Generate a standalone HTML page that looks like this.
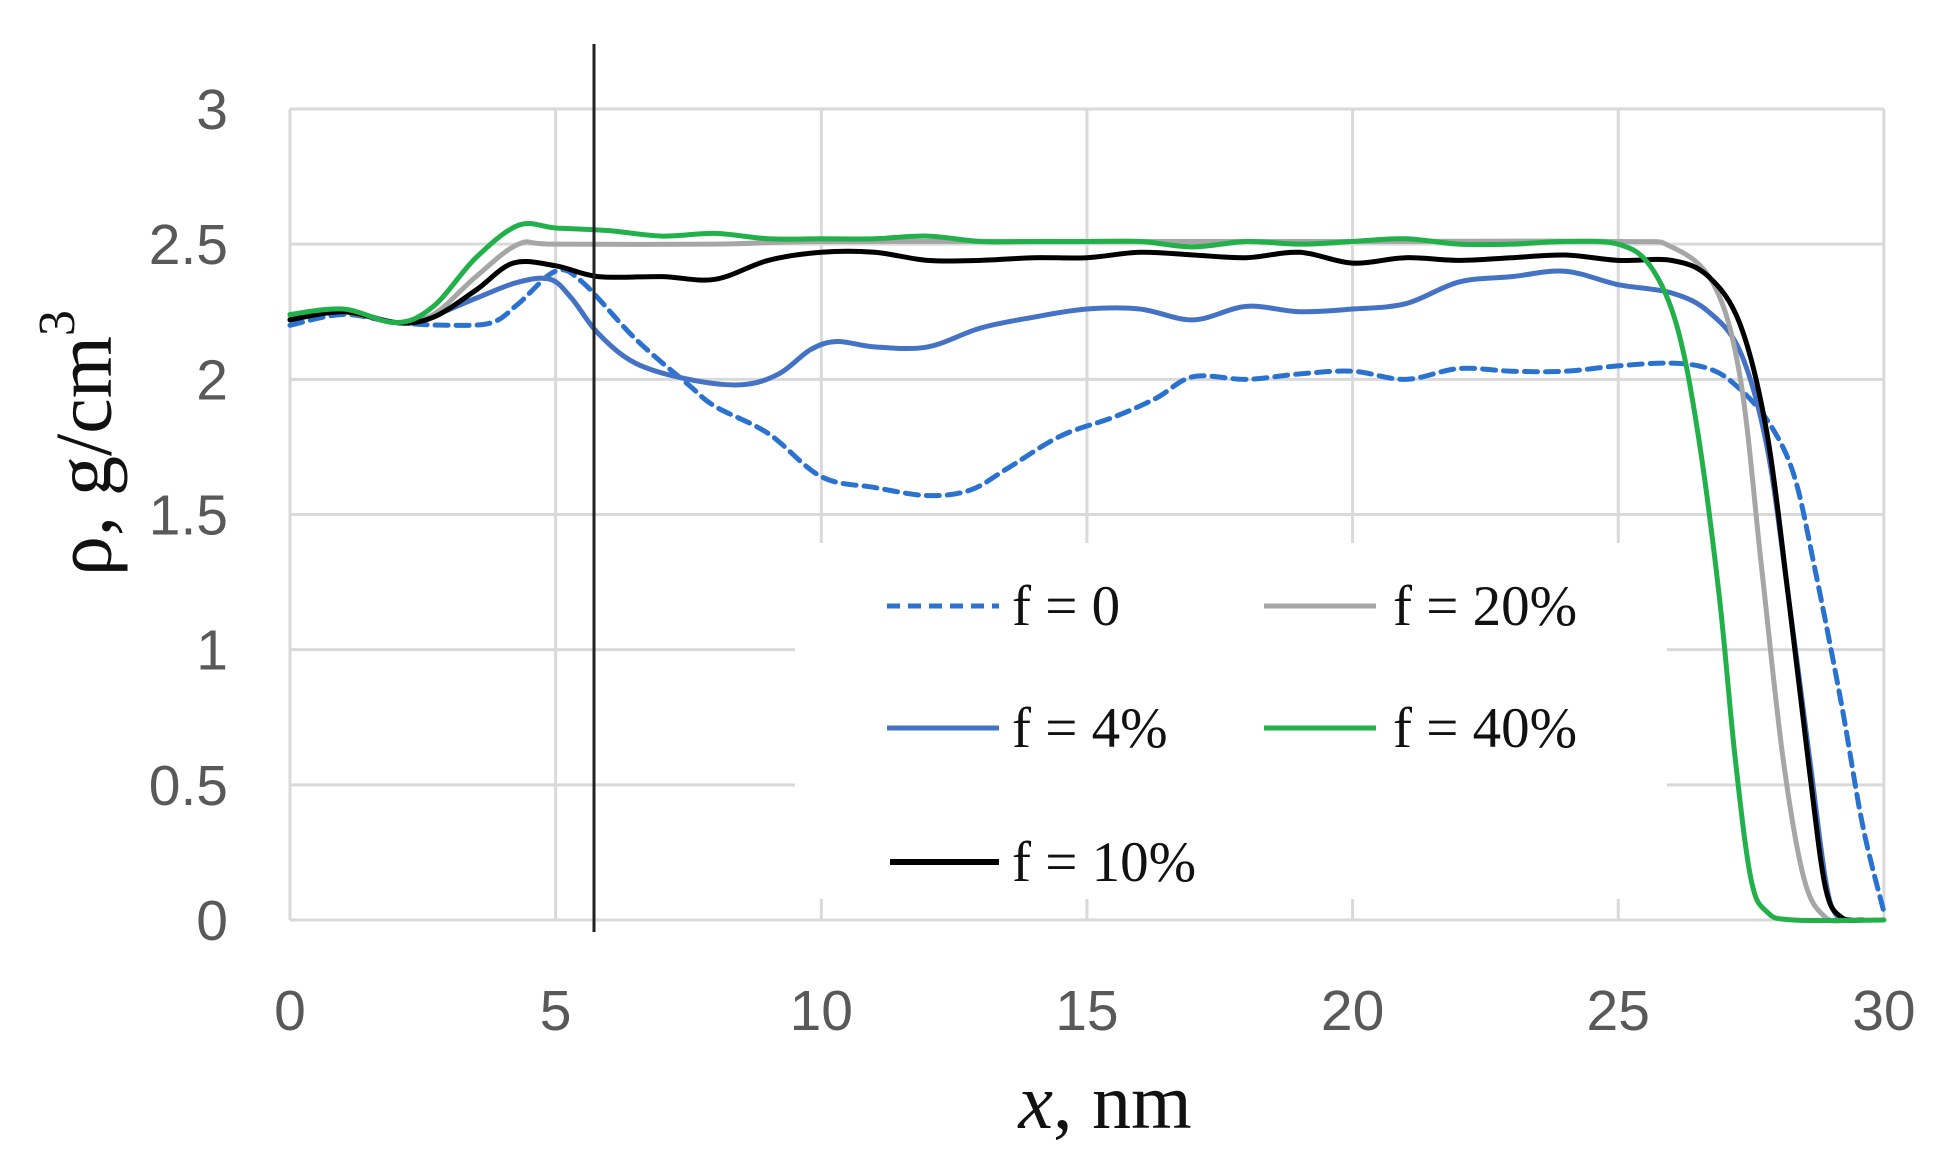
<!DOCTYPE html>
<html><head><meta charset="utf-8"><style>
html,body{margin:0;padding:0;background:#fff;}
svg{display:block;}
.tk{font-family:"Liberation Sans",sans-serif;font-size:57px;fill:#595959;}
.lg{font-family:"Liberation Serif",serif;font-size:57px;fill:#111;}
</style></head><body>
<svg id="s" width="1948" height="1168" viewBox="0 0 1948 1168" xmlns="http://www.w3.org/2000/svg">
<g id="grid" stroke="#d9d9d9" stroke-width="3" fill="none"></g>
<rect x="795" y="543" width="872" height="356" fill="#fff"/>
<g id="ticks"></g>
<g id="series" fill="none" stroke-linejoin="round" stroke-linecap="round"></g>
<line x1="594" y1="44" x2="594" y2="932" stroke="#222" stroke-width="3"/>
<text x="92" y="443" transform="rotate(-90 92 443)" text-anchor="middle" dominant-baseline="middle" style="font-family:'Liberation Serif',serif;font-size:80px;fill:#111">ρ, g/cm<tspan dy="-30" font-size="52">3</tspan></text>
<text x="1105" y="1128" text-anchor="middle" style="font-family:'Liberation Serif',serif;font-size:78px;fill:#111"><tspan font-style="italic">x</tspan>, nm</text>
<g stroke-width="5">
<line x1="887" y1="606" x2="999" y2="606" stroke="#2a72d0" stroke-dasharray="13,8"/>
<line x1="887" y1="728" x2="999" y2="728" stroke="#4472C4"/>
<line x1="890" y1="862" x2="999" y2="862" stroke="#000" stroke-width="6"/>
<line x1="1264" y1="606" x2="1376" y2="606" stroke="#a6a6a6"/>
<line x1="1264" y1="728" x2="1376" y2="728" stroke="#22b04a"/>
</g>
<text class="lg" x="1012" y="625">f = 0</text>
<text class="lg" x="1012" y="747">f = 4%</text>
<text class="lg" x="1012" y="881">f = 10%</text>
<text class="lg" x="1393" y="625">f = 20%</text>
<text class="lg" x="1393" y="747">f = 40%</text>
</svg>
<script>
const X=v=>290+v*53.13, Y=v=>920-v*270.33;
const NS="http://www.w3.org/2000/svg";
const g=document.getElementById('grid'),t=document.getElementById('ticks'),se=document.getElementById('series');
function el(p,tag,a,txt){const e=document.createElementNS(NS,tag);for(const k in a)e.setAttribute(k,a[k]);if(txt!==undefined)e.textContent=txt;p.appendChild(e);return e;}
for(let i=0;i<=6;i++){const y=Y(i*0.5);el(g,'line',{x1:290,y1:y,x2:1884,y2:y});el(t,'text',{x:228,y:y+20,class:'tk','text-anchor':'end'},String(i*0.5));}
for(let i=0;i<=6;i++){const x=X(i*5);el(g,'line',{x1:x,y1:109,x2:x,y2:920});el(t,'text',{x:x,y:1030,class:'tk','text-anchor':'middle'},String(i*5));}
function path(pts){const p=pts.map(a=>[X(a[0]),Y(a[1])]);let d='M'+p[0][0]+','+p[0][1];
for(let i=0;i<p.length-1;i++){const p0=p[Math.max(0,i-1)],p1=p[i],p2=p[i+1],p3=p[Math.min(p.length-1,i+2)];
const c1=[p1[0]+(p2[0]-p0[0])/6,p1[1]+(p2[1]-p0[1])/6],c2=[p2[0]-(p3[0]-p1[0])/6,p2[1]-(p3[1]-p1[1])/6];
d+=' C'+c1+' '+c2+' '+p2;}return d;}
const S=[
{c:'#2a72d0',w:5,da:'13,8',p:[[0,2.2],[1,2.24],[2,2.21],[3,2.2],[3.8,2.21],[4.3,2.28],[5,2.4],[5.5,2.36],[6.5,2.15],[7.5,1.98],[8,1.9],[9,1.8],[10,1.64],[11,1.6],[12,1.57],[12.8,1.59],[13.5,1.67],[14.5,1.79],[15.5,1.86],[16.3,1.93],[17,2.01],[18,2.0],[19,2.02],[20,2.03],[21,2.0],[22,2.04],[23,2.03],[24,2.03],[25,2.05],[26,2.06],[26.7,2.04],[27.2,1.98],[27.8,1.85],[28.3,1.65],[28.7,1.3],[29.2,0.8],[29.6,0.35],[30,0.03]]},
{c:'#4472C4',w:5,p:[[0,2.22],[1,2.25],[2,2.21],[2.5,2.22],[3.5,2.3],[4.3,2.36],[4.9,2.37],[5.3,2.3],[5.8,2.17],[6.5,2.06],[7.5,2.0],[8.5,1.98],[9.2,2.02],[9.8,2.11],[10.3,2.14],[11,2.12],[12,2.12],[13,2.19],[14,2.23],[15,2.26],[16,2.26],[17,2.22],[18,2.27],[19,2.25],[20,2.26],[21,2.28],[22,2.36],[23,2.38],[24,2.4],[25,2.35],[26,2.32],[26.7,2.25],[27.3,2.1],[27.8,1.75],[28.2,1.2],[28.6,0.6],[28.9,0.15],[29.1,0.02],[29.4,0]]},
{c:'#a6a6a6',w:5,p:[[0,2.23],[1,2.25],[2,2.21],[2.7,2.24],[3.5,2.38],[4.3,2.5],[5,2.5],[8,2.5],[10,2.51],[15,2.51],[20,2.51],[25,2.51],[26,2.49],[26.8,2.35],[27.3,2.0],[27.7,1.3],[28.1,0.6],[28.5,0.15],[28.9,0.01],[29.3,0]]},
{c:'#000',w:5,p:[[0,2.22],[1,2.25],[2,2.21],[2.7,2.23],[3.5,2.33],[4.2,2.43],[5,2.42],[5.8,2.38],[7,2.38],[8,2.37],[9,2.44],[10,2.47],[11,2.47],[12,2.44],[13,2.44],[14,2.45],[15,2.45],[16,2.47],[17,2.46],[18,2.45],[19,2.47],[20,2.43],[21,2.45],[22,2.44],[23,2.45],[24,2.46],[25,2.44],[26,2.44],[26.7,2.38],[27.3,2.2],[27.8,1.8],[28.2,1.2],[28.6,0.55],[28.9,0.12],[29.2,0.01],[29.6,0]]},
{c:'#22b04a',w:5,p:[[0,2.24],[1,2.26],[2,2.21],[2.7,2.27],[3.5,2.45],[4.3,2.57],[5,2.56],[6,2.55],[7,2.53],[8,2.54],[9,2.52],[10,2.52],[11,2.52],[12,2.53],[13,2.51],[14,2.51],[15,2.51],[16,2.51],[17,2.49],[18,2.51],[19,2.5],[20,2.51],[21,2.52],[22,2.5],[23,2.5],[24,2.51],[25,2.5],[25.6,2.42],[26.1,2.2],[26.5,1.8],[26.9,1.2],[27.2,0.6],[27.5,0.15],[27.8,0.03],[28.3,0],[30,0]]}
];
for(const s of S){const a={d:path(s.p),stroke:s.c,'stroke-width':s.w};if(s.da)a['stroke-dasharray']=s.da;el(se,'path',a);}
</script>
</body></html>
